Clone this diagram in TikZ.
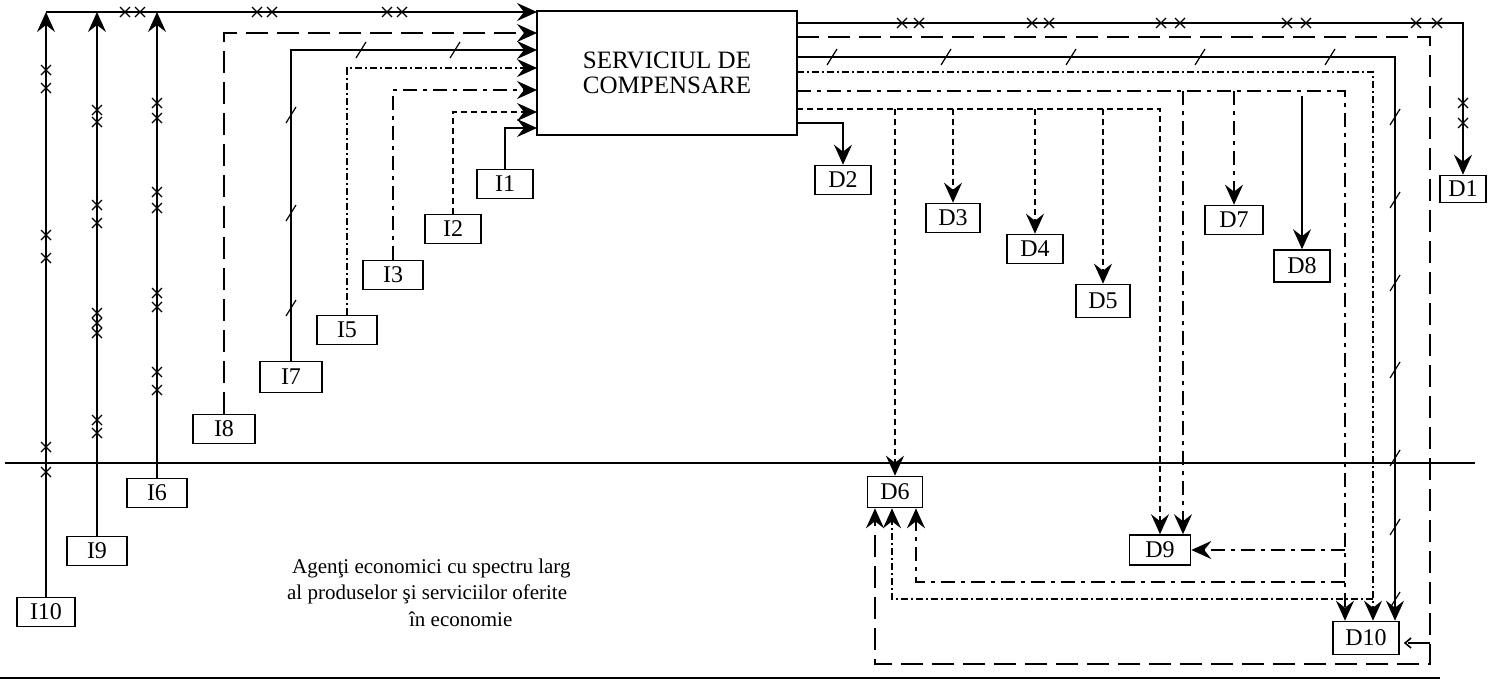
\documentclass[tikz,border=0pt]{standalone}
\usepackage{fontspec}
\setmainfont{Liberation Serif}
\usetikzlibrary{arrows.meta}

\begin{document}
\begin{tikzpicture}[x=1pt,y=-1pt,line width=1.6pt,
  >={Stealth[length=20pt,width=18pt,inset=7pt]},
  box/.style={draw,minimum width=56pt,minimum height=29pt,inner sep=0pt,font=\fontsize{24}{26}\selectfont},
  ldash/.style={dash pattern=on 22pt off 9pt},
  sdash/.style={dash pattern=on 6pt off 4pt},
  dashdot/.style={dash pattern=on 14pt off 6pt on 4pt off 6pt},
  ddot/.style={dash pattern=on 7pt off 3pt on 2pt off 3pt},
  xmk/.pic={\draw[solid,line width=1.2pt] (-5,-5) -- (5,5) (-5,5) -- (5,-5);},
  slmk/.pic={\draw[solid,line width=1.2pt] (-5,8) -- (5,-8);}]
  \useasboundingbox (0,0) rectangle (1494,686);

  \node[draw,minimum width=260pt,minimum height=124pt,align=center,font=\fontsize{25}{25}\selectfont] (SC) at (667,73) {SERVICIUL DE\\COMPENSARE};

  \node[box] (I1) at (505,184) {I1};
  \node[box] (I2) at (453,229) {I2};
  \node[box,minimum width=60pt] (I3) at (393,275) {I3};
  \node[box,minimum width=60pt] (I5) at (347,330) {I5};
  \node[box,minimum width=62pt,minimum height=31pt] (I7) at (291,377) {I7};
  \node[box,minimum width=62pt] (I8) at (224,429) {I8};
  \node[box,minimum width=60pt] (I6) at (157,493) {I6};
  \node[box,minimum width=60pt] (I9) at (97,551) {I9};
  \node[box,minimum width=58pt] (I10) at (46,612) {I10};

  \node[box,minimum width=46pt,minimum height=27pt] (D1) at (1463,189) {D1};
  \node[box] (D2) at (843,180) {D2};
  \node[box,minimum width=54pt] (D3) at (953,218) {D3};
  \node[box] (D4) at (1035,249) {D4};
  \node[box,minimum width=54pt,minimum height=33pt] (D5) at (1103,301) {D5};
  \node[box,minimum width=58pt] (D7) at (1234,220) {D7};
  \node[box,minimum height=32pt] (D8) at (1302,266) {D8};
  \node[box,minimum width=55pt,minimum height=31pt] (D6) at (895,492) {D6};
  \node[box,minimum width=61pt,minimum height=30pt] (D9) at (1160,550) {D9};
  \node[box,minimum width=66pt,minimum height=33pt] (D10) at (1366,638) {D10};

  \node[anchor=west,font=\fontsize{21}{24}\selectfont] (t1) at (288,568) {Agenţi economici cu spectru larg};
  \node[anchor=west,font=\fontsize{21}{24}\selectfont] (t2) at (283,594) {al produselor şi serviciilor oferite};
  \node[anchor=west,font=\fontsize{21}{24}\selectfont] (t3) at (405,619) {în economie};

  \draw (5,463) -- (1475,463);
  \draw (0,678) -- (1440,678);

  \coordinate (in10) at (537,12);
  \coordinate (in8) at (537,33);
  \coordinate (in7) at (537,50);
  \coordinate (in5) at (537,68);
  \coordinate (in3) at (537,90);
  \coordinate (in2) at (537,112);
  \coordinate (in1) at (537,128);

  \draw[->] (I10.north) -- (I10.north |- in10);
  \draw[->] (I9.north) -- (I9.north |- in10);
  \draw[->] (I6.north) -- (I6.north |- in10);
  \draw[->] (I10.north |- in10) -- (in10);
  \draw[ldash,->] (I8.north) |- (in8);
  \draw[->] (I7.north) |- (in7);
  \draw[ddot,->] (I5.north) |- (in5);
  \draw[dashdot,->] (I3.north) |- (in3);
  \draw[sdash,->] (I2.north) |- (in2);
  \draw[->] (I1.north) |- (in1);

  \coordinate (out1) at (797,23);
  \coordinate (out2) at (797,37);
  \coordinate (out3) at (797,57);
  \coordinate (out4) at (797,72);
  \coordinate (out5) at (797,91);
  \coordinate (out6) at (797,109);
  \coordinate (out7) at (797,123);
  \coordinate (c2) at (1430,664);
  \coordinate (c4) at (1373,599);
  \coordinate (c5a) at (1345,550);
  \coordinate (c5b) at (1345,582);
  \coordinate (d9b) at ([xshift=23pt]D9.north);

  \draw[->] (out1) -| (D1.north);
  \draw[ldash,->] (out2) -| (c2) -| ([xshift=-20pt]D6.south);
  \draw[ldash,-{Straight Barb[length=6pt,width=10pt]}] (1430,643) -- ([xshift=4pt,yshift=-5pt]D10.east);
  \draw[->] (out3) -| ([xshift=29pt]D10.north);
  \draw[ddot,->] (out4) -| ([xshift=7pt]D10.north);
  \draw[ddot,->] (c4) -| ([xshift=-3pt]D6.south);
  \draw[dashdot,->] (out5) -| ([xshift=-21pt]D10.north);
  \draw[dashdot,->] (c5a) -- (D9.east);
  \draw[dashdot,->] (c5b) -| ([xshift=21pt]D6.south);
  \draw[dashdot,->] (D7.north |- out5) -- (D7.north);
  \draw[dashdot,->] (d9b |- out5) -- (d9b);
  \draw[->] (D8.north |- 0,96) -- (D8.north);
  \draw[sdash,->] (out6) -| (D9.north);
  \draw[sdash,->] (D6.north |- out6) -- (D6.north);
  \draw[sdash,->] (D3.north |- out6) -- (D3.north);
  \draw[sdash,->] (D4.north |- out6) -- (D4.north);
  \draw[sdash,->] (D5.north |- out6) -- (D5.north);
  \draw[->] (out7) -| (D2.north);

  \path (125,12) pic{xmk} (140,12) pic{xmk} (257,12) pic{xmk} (272,12) pic{xmk} (387,12) pic{xmk} (402,12) pic{xmk};
  \path (46,70) pic{xmk} (46,88) pic{xmk} (46,235) pic{xmk} (46,258) pic{xmk} (46,447) pic{xmk} (46,472) pic{xmk};
  \path (97,110) pic{xmk} (97,122) pic{xmk} (97,205) pic{xmk} (97,223) pic{xmk} (97,313) pic{xmk} (97,323) pic{xmk} (97,333) pic{xmk} (97,420) pic{xmk} (97,433) pic{xmk};
  \path (157,103) pic{xmk} (157,118) pic{xmk} (157,192) pic{xmk} (157,208) pic{xmk} (157,293) pic{xmk} (157,307) pic{xmk} (157,372) pic{xmk} (157,390) pic{xmk};
  \path (902,23) pic{xmk} (919,23) pic{xmk} (1032,23) pic{xmk} (1049,23) pic{xmk} (1161,23) pic{xmk} (1180,23) pic{xmk} (1287,23) pic{xmk} (1306,23) pic{xmk} (1416,23) pic{xmk} (1437,23) pic{xmk};
  \path (1463,103) pic{xmk} (1463,123) pic{xmk};
  \path (291,115) pic{slmk} (291,213) pic{slmk} (291,308) pic{slmk} (361,50) pic{slmk} (455,50) pic{slmk};
  \path (832,57) pic{slmk} (946,57) pic{slmk} (1071,57) pic{slmk} (1200,57) pic{slmk} (1330,57) pic{slmk};
  \path (1395,117) pic{slmk} (1395,200) pic{slmk} (1395,283) pic{slmk} (1395,370) pic{slmk} (1395,458) pic{slmk} (1395,527) pic{slmk} (1395,600) pic{slmk};
\end{tikzpicture}
\end{document}
